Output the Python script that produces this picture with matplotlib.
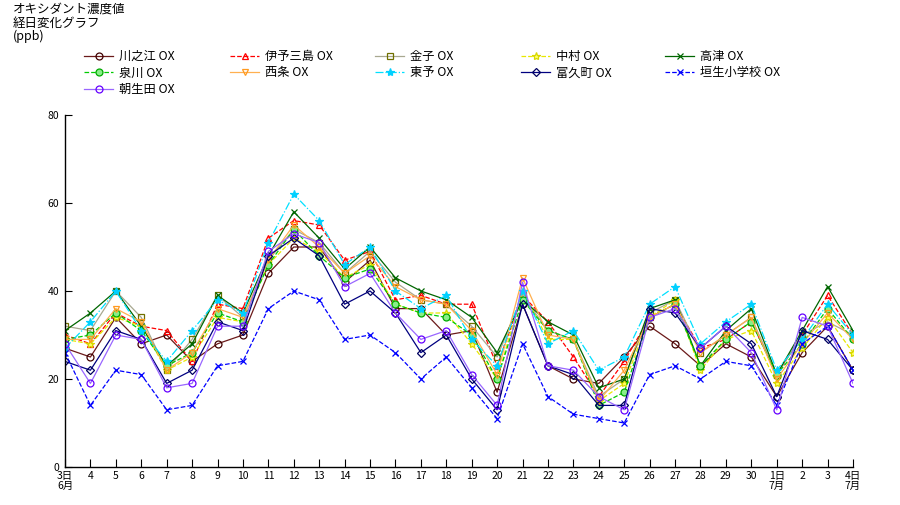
import matplotlib
matplotlib.use('Agg')
import matplotlib.pyplot as plt

plt.rcParams['font.family'] = ['Noto Sans CJK JP', 'DejaVu Sans']

# June 3 .. July 4
day_labels = ['3日\n6月'] + [str(d) for d in range(4, 31)] + ['1日\n7月', '2', '3', '4日\n7月']

kawanoe = [27, 25, 34, 28, 30, 24, 28, 30, 44, 50, 50, 42, 47, 36, 36, 30,
           31, 17, 37, 23, 20, 19, 25, 32, 28, 23, 28, 25, 16, 26, 32, 22]
iyomishima = [30, 28, 35, 32, 31, 24, 37, 36, 52, 56, 55, 47, 49, 38, 39, 37,
              37, 23, 39, 33, 25, 16, 24, 34, 37, 27, 29, 33, 21, 30, 39, 30]
kaneko = [32, 31, 40, 34, 22, 29, 39, 34, 47, 54, 51, 44, 49, 42, 38, 37,
          32, 25, 39, 31, 29, 16, 20, 35, 38, 26, 30, 34, 21, 30, 33, 30]
nakamura = [29, 28, 34, 32, 22, 25, 34, 33, 46, 52, 49, 43, 46, 37, 35, 35,
            28, 20, 40, 29, 29, 15, 19, 34, 38, 22, 29, 31, 19, 27, 34, 26]
takatsu = [31, 35, 40, 32, 23, 28, 39, 35, 48, 58, 52, 45, 50, 43, 40, 38,
           34, 26, 38, 33, 30, 18, 20, 36, 38, 23, 31, 36, 21, 31, 41, 31]
izumikawa = [29, 30, 35, 31, 23, 26, 35, 33, 46, 54, 48, 43, 45, 37, 35, 34,
             30, 20, 38, 31, 29, 14, 17, 34, 37, 23, 29, 33, 21, 28, 36, 29]
saijo = [29, 29, 36, 33, 22, 26, 36, 34, 47, 55, 50, 44, 48, 41, 38, 37,
         31, 21, 43, 30, 29, 15, 22, 34, 37, 26, 30, 34, 20, 28, 35, 29]
toyo = [27, 33, 40, 31, 24, 31, 38, 35, 51, 62, 56, 46, 50, 40, 36, 39,
        29, 23, 40, 28, 31, 22, 25, 37, 41, 28, 33, 37, 22, 29, 37, 30]
fukumachi = [24, 22, 31, 29, 19, 22, 33, 31, 48, 52, 48, 37, 40, 35, 26, 30,
             20, 13, 37, 23, 21, 14, 14, 36, 35, 27, 32, 28, 16, 31, 29, 22]
hanyu = [26, 14, 22, 21, 13, 14, 23, 24, 36, 40, 38, 29, 30, 26, 20, 25,
         18, 11, 28, 16, 12, 11, 10, 21, 23, 20, 24, 23, 14, 28, 32, 22]
asoda = [28, 19, 30, 29, 18, 19, 32, 32, 49, 53, 51, 41, 44, 35, 29, 31,
         21, 14, 42, 23, 22, 16, 13, 34, 36, 27, 32, 26, 13, 34, 32, 19]

series = [
    ('川之江 OX', kawanoe, '#6b1a1a', '-', 'o', '#400000', 'none'),
    ('伊予三島 OX', iyomishima, '#ff0000', '--', '^', '#ff0000', 'none'),
    ('金子 OX', kaneko, '#a8a890', '-', 's', '#707000', 'none'),
    ('中村 OX', nakamura, '#e8e800', '--', '*', '#d8d800', '#ffff66'),
    ('高津 OX', takatsu, '#006600', '-', 'x', '#006600', 'none'),
    ('泉川 OX', izumikawa, '#00cc00', '--', 'o', '#00aa00', '#88ee88'),
    ('西条 OX', saijo, '#ffb050', '-', 'v', '#ff9a20', 'none'),
    ('東予 OX', toyo, '#00e0ff', '-.', '*', '#00d0ff', '#00d0ff'),
    ('富久町 OX', fukumachi, '#000080', '-', 'D', '#000060', 'none'),
    ('垣生小学校 OX', hanyu, '#0000ff', '--', 'x', '#0000ff', 'none'),
    ('朝生田 OX', asoda, '#9966ff', '-', 'o', '#6600ff', 'none'),
]

x = list(range(len(day_labels)))

fig = plt.figure(figsize=(9, 5.05), dpi=100)
ax = fig.add_axes([65 / 900, 38 / 505, 788 / 900, 352 / 505])

handles = []
for name, vals, col, ls, mk, mec, mfc in series:
    ms = 4 if mk in ('D', 'x') else 5
    if mk == '*':
        ms = 6
    h, = ax.plot(x, vals, color=col, ls=ls, lw=0.9, marker=mk, ms=ms,
                 mec=mec, mfc=mfc, mew=0.9, label=name)
    handles.append(h)

ax.set_xlim(0, len(x) - 1)
ax.set_ylim(0, 80)
ax.set_yticks([0, 20, 40, 60, 80])
ax.set_xticks(x)
ax.set_xticklabels(day_labels, fontsize=7.5, linespacing=1.0)
ax.tick_params(axis='y', direction='in', length=5, labelsize=7.5, pad=4)
ax.tick_params(axis='x', direction='in', length=6, pad=3)
ax.spines['top'].set_visible(False)
ax.spines['right'].set_visible(False)
for s in ('left', 'bottom'):
    ax.spines[s].set_linewidth(1.0)

fig.text(13 / 900, 1 - 3 / 505, 'オキシダント濃度値\n経日変化グラフ\n(ppb)',
         ha='left', va='top', fontsize=9, linespacing=1.05)

# legend laid out row by row, five fixed-width columns
col_x = [84, 230, 375, 521, 665]
for c in range(5):
    group = handles[c::5]
    fig.legend(handles=group, labels=[h.get_label() for h in group],
               loc='upper left', bbox_to_anchor=(col_x[c] / 900, 1 - 50 / 505),
               frameon=False, fontsize=8.8, handlelength=2.4,
               handletextpad=0.45, labelspacing=0.28,
               borderpad=0, borderaxespad=0)

fig.savefig('out.png', dpi=100)
